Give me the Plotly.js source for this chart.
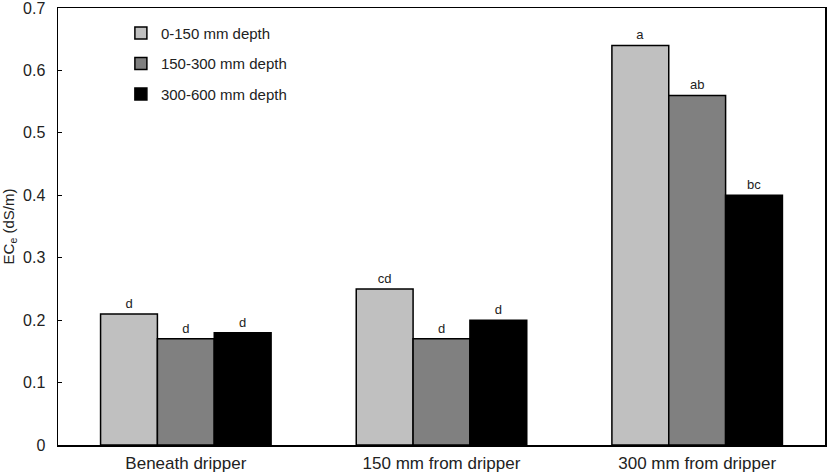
<!DOCTYPE html>
<html>
<head>
<meta charset="utf-8">
<script src="https://cdn.plot.ly/plotly-3.0.1.min.js"></script>
<style>html,body{margin:0;padding:0;background:#fff;}#chart{width:827px;height:476px;}</style>
</head>
<body>
<div id="chart"></div>
<script>
const categories = ["Beneath dripper", "150 mm from dripper", "300 mm from dripper"];
const seriesNames = ["0-150 mm depth", "150-300 mm depth", "300-600 mm depth"];
const depth0_150 = [0.21, 0.25, 0.64];
const depth150_300 = [0.17, 0.17, 0.56];
const depth300_600 = [0.18, 0.20, 0.40];
const letters0_150 = ["d", "cd", "a"];
const letters150_300 = ["d", "d", "ab"];
const letters300_600 = ["d", "d", "bc"];
const yTicks = [0, 0.1, 0.2, 0.3, 0.4, 0.5, 0.6, 0.7];
const yTickText = ["0", "0.1", "0.2", "0.3", "0.4", "0.5", "0.6", "0.7"];

const colors = ["#c0c0c0", "#808080", "#000000"];
const vals = [depth0_150, depth150_300, depth300_600];
const letters = [letters0_150, letters150_300, letters300_600];

const traces = vals.map((v, i) => ({
  type: "bar",
  x: categories,
  y: v,
  name: seriesNames[i],
  legendgroup: "g" + i,
  text: letters[i],
  textposition: "outside",
  textfont: {family: "Liberation Sans, Arial, sans-serif", size: 13, color: "#222"},
  cliponaxis: false,
  marker: {color: colors[i], line: {color: "#000", width: 1.5}},
  hoverinfo: "skip"
}));

const layout = {
  width: 827,
  height: 476,
  margin: {l: 58, r: 2, t: 8, b: 31},
  paper_bgcolor: "#fff",
  plot_bgcolor: "#fff",
  font: {family: "Liberation Sans, Arial, sans-serif", color: "#222"},
  barmode: "group",
  bargap: 0.333,
  bargroupgap: 0,
  showlegend: true,
  legend: {
    x: 0.082, y: 0.98, xanchor: "left", yanchor: "top",
    bgcolor: "rgba(0,0,0,0)",
    font: {size: 15, color: "#222"},
    tracegroupgap: 8,
    itemclick: false
  },
  xaxis: {
    showline: true, linecolor: "#000", linewidth: 1.5, mirror: true,
    ticks: "", tickfont: {size: 17, color: "#222"},
    ticklabelstandoff: 2,
    showgrid: false, zeroline: false
  },
  yaxis: {
    range: [0, 0.7],
    tickvals: yTicks, ticktext: yTickText,
    showline: true, linecolor: "#000", linewidth: 1.5, mirror: true,
    ticks: "inside", ticklen: 4, tickcolor: "#000",
    tickfont: {size: 16, color: "#222"},
    ticklabelstandoff: 8,
    ticklabeloverflow: "allow",
    showgrid: false, zeroline: false,
    title: {text: "EC<sub>e</sub> (dS/m)", font: {size: 15, color: "#222"}, standoff: 40}
  }
};

Plotly.newPlot("chart", traces, layout, {displayModeBar: false, staticPlot: true});
</script>
</body>
</html>
